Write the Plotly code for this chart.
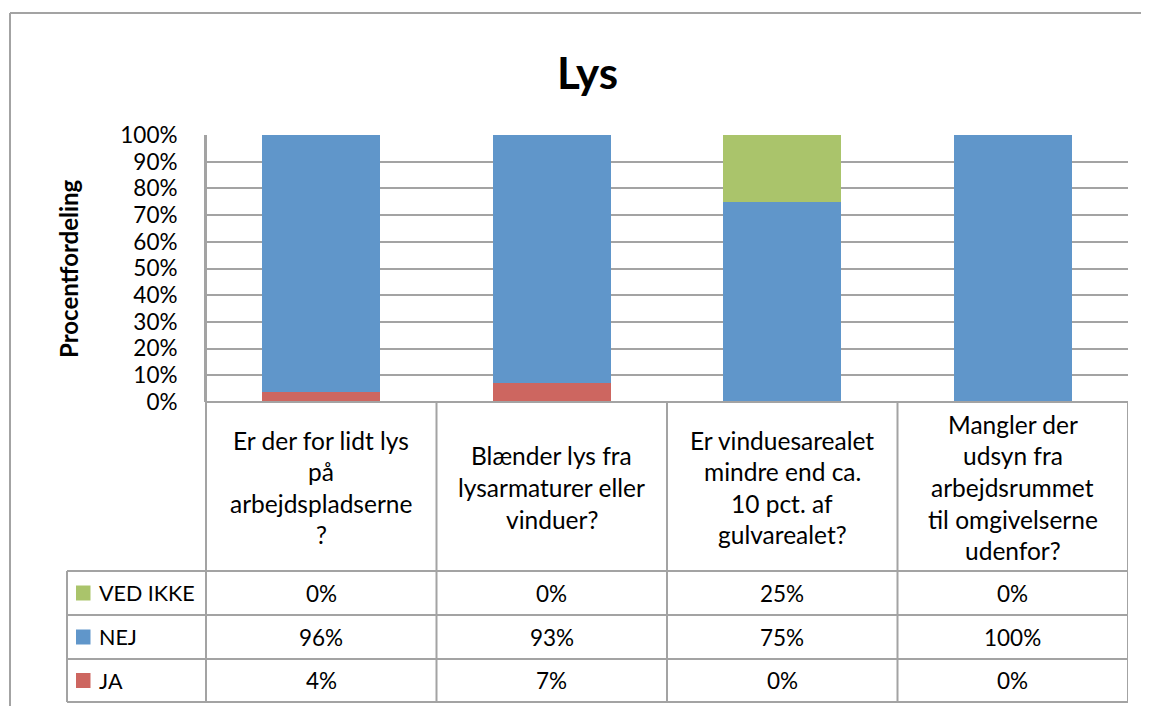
import plotly.graph_objects as go

# ---------------- data ----------------
categories = [
    "Er der for lidt lys<br>på<br>arbejdspladserne<br>?",
    "Blænder lys fra<br>lysarmaturer eller<br>vinduer?",
    "Er vinduesarealet<br>mindre end ca.<br>10 pct. af<br>gulvarealet?",
    "Mangler der<br>udsyn fra<br>arbejdsrummet<br>til omgivelserne<br>udenfor?",
]
ja = [3.6, 7.1, 0, 0]
nej = [96.4, 92.9, 75, 100]
ved_ikke = [0, 0, 25, 0]
series_names = ["JA", "NEJ", "VED IKKE"]
series_colors = ["#CD6660", "#6096CA", "#AAC46B"]
y_tickvals = [0, 10, 20, 30, 40, 50, 60, 70, 80, 90, 100]
y_ticktext = ["0%", "10%", "20%", "30%", "40%", "50%", "60%", "70%", "80%", "90%", "100%"]
title_text = "Lys"
y_title = "Procentfordeling"

# ---------------- layout geometry (reference-window pixels) ----------------
OFF = 8                       # default page body margin
WR, HR = 1149, 706            # window size
PL, PR, PT, PB = 206, 1128, 135, 402
FONT = "Lato"
GRID = "#a3a3a3"
TXT_WORD = 24.5
TXT_NUM = 22.5
TXT_LEG = 21.5


def px(x):
    return (x - PL) / (PR - PL)


def py(y):
    return (PB - y) / (PB - PT)


xs = list(range(len(categories)))
series_vals = [ja, nej, ved_ikke]

fig = go.Figure()
for name, vals, col in zip(series_names, series_vals, series_colors):
    fig.add_trace(go.Bar(x=xs, y=vals, name=name, marker=dict(color=col, line=dict(width=0)),
                         showlegend=False, hoverinfo="skip"))

shapes = []
ann = []


def hline(y, x0, x1, w=2):
    shapes.append(dict(type="line", xref="paper", yref="paper", x0=px(x0), x1=px(x1), y0=py(y), y1=py(y),
                       line=dict(color=GRID, width=w)))


def vline_px(x, y0, y1, w=2):
    shapes.append(dict(type="line", xref="paper", yref="paper", x0=px(x), x1=px(x), y0=py(y0), y1=py(y1),
                       line=dict(color=GRID, width=w)))


# outer chart frame
vline_px(10, 13, HR + 10, w=2)
hline(13, 10, WR + 10, w=2)

# data table grid
row_lines = [571, 615, 659, 702]
hline(PB, PL, PR)
for y in row_lines:
    hline(y, 67, PR)
vline_px(PL, PT, 702)
vline_px(67, 571, 702)
for k in range(len(categories) + 1):
    shapes.append(dict(type="line", xref="x", yref="paper", x0=k - 0.5, x1=k - 0.5,
                       y0=py(PB), y1=py(702), line=dict(color=GRID, width=2)))

# header (category) labels
header_center = 487.5
line_gap = 31.6
for i, cat in enumerate(categories):
    lines = cat.split("<br>")
    n = len(lines)
    for j, t in enumerate(lines):
        yc = header_center + (j - (n - 1) / 2) * line_gap
        ann.append(dict(x=i, xref="x", y=py(yc), yref="paper", text=t, showarrow=False,
                        xanchor="center", yanchor="middle", font=dict(family=FONT, size=TXT_WORD, color="black")))

# table rows (top: VED IKKE, NEJ, JA)
row_centers = [593, 637, 680.5]
for rc, idx in zip(row_centers, [2, 1, 0]):
    shapes.append(dict(type="rect", xref="paper", yref="paper", x0=px(76), x1=px(90.5),
                       y0=py(rc - 7.5), y1=py(rc + 7.5), line=dict(width=0),
                       fillcolor=series_colors[idx]))
    ann.append(dict(x=px(97), xref="paper", y=py(rc), yref="paper", text=series_names[idx], showarrow=False,
                    xanchor="left", yanchor="middle", font=dict(family=FONT, size=TXT_LEG, color="black")))
    for i, v in enumerate(series_vals[idx]):
        ann.append(dict(x=i, xref="x", y=py(rc), yref="paper", text=f"{round(v)}%", showarrow=False,
                        xanchor="center", yanchor="middle", font=dict(family=FONT, size=TXT_NUM, color="black")))

# title
ann.append(dict(x=px(587), xref="paper", y=py(72), yref="paper", text=f"<b>{title_text}</b>", showarrow=False,
                xanchor="center", yanchor="middle", font=dict(family=FONT, size=44, color="black")))
# y axis title
ann.append(dict(x=px(68), xref="paper", y=py(269), yref="paper", text=f"<b>{y_title}</b>", showarrow=False,
                textangle=-90, xanchor="center", yanchor="middle", font=dict(family=FONT, size=24, color="black")))

fig.update_layout(
    width=WR - OFF, height=HR - OFF,
    margin=dict(l=PL - OFF, r=WR - PR, t=PT - OFF, b=HR - PB, autoexpand=False),
    paper_bgcolor="white", plot_bgcolor="white",
    barmode="stack", bargap=0.487,
    shapes=shapes, annotations=ann,
    font=dict(family=FONT, size=TXT_NUM, color="black"),
)
fig.update_xaxes(range=[-0.5, len(categories) - 0.5], showticklabels=False, showgrid=False, zeroline=False,
                 showline=False, fixedrange=True)
fig.update_yaxes(range=[0, 100], tickvals=y_tickvals, ticktext=y_ticktext, showgrid=True, gridcolor=GRID,
                 gridwidth=1.6, zeroline=False, showline=True, linecolor=GRID, linewidth=2, ticks="",
                 ticklabelstandoff=22, tickfont=dict(family=FONT, size=TXT_NUM, color="black"), fixedrange=True)

fig.write_html("out.html")
